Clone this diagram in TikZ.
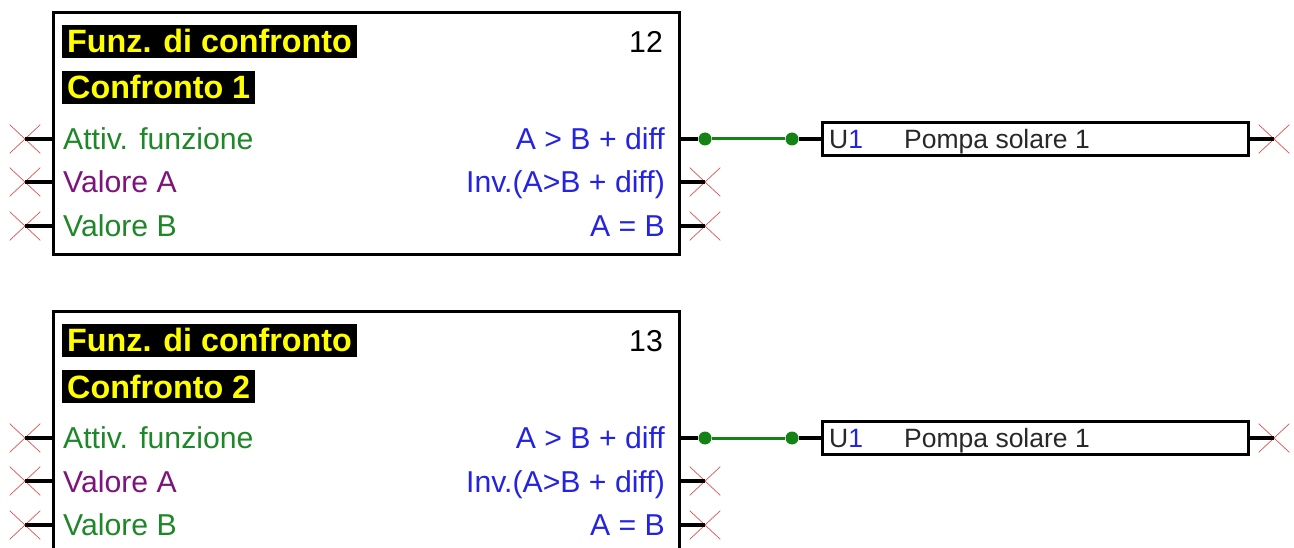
\documentclass[tikz,border=0pt]{standalone}
\usepackage{fontspec}
\setmainfont{Liberation Sans}
\usetikzlibrary{shapes.misc, positioning}

\definecolor{titleYellow}{RGB}{255,255,0}
\definecolor{sigGreen}{RGB}{30,135,40}
\definecolor{sigPurple}{RGB}{125,20,125}
\definecolor{sigBlue}{RGB}{35,35,225}
\definecolor{wireGreen}{RGB}{20,130,20}
\definecolor{xRed}{RGB}{225,80,80}
\definecolor{boxText}{RGB}{40,40,40}

\begin{document}
\begin{tikzpicture}[
    x=1pt, y=-1pt,
    block/.style={draw=black, line width=3.2pt, anchor=north west, minimum width=626pt, minimum height=242pt, inner sep=0pt},
    hdr/.style={fill=black, text=titleYellow, anchor=west, font=\fontsize{32.3}{34}\selectfont\bfseries, inner xsep=5pt, inner ysep=0pt, minimum height=33pt, text height=23pt, text depth=0pt},
    lbl/.style={font=\fontsize{30.2}{32}\selectfont, inner sep=0pt},
    inlbl/.style={lbl, anchor=base west},
    outlbl/.style={lbl, anchor=base east, text=sigBlue},
    xmark/.style={cross out, draw=xRed, line width=0.7pt, minimum width=30pt, minimum height=28pt, inner sep=0pt},
    pin/.style={draw=black, line width=3.2pt},
    wire/.style={draw=wireGreen, line width=3pt},
    dot/.style={circle, fill=wireGreen, minimum size=13pt, inner sep=0pt},
    outbox/.style={draw=black, line width=3.2pt, anchor=west, minimum width=426pt, minimum height=33pt, inner sep=0pt},
    boxtxt/.style={font=\fontsize{26.5}{30}\selectfont, text=boxText, anchor=base west, inner sep=0pt}
]
\useasboundingbox (0,0) rectangle (1294,548);
\clip (0,0) rectangle (1294,548);

% comparison block 12
\node[block] (cmp1) at (52,11) {};
\node[hdr] (hd1a) at (62,41.5) {Funz. di confronto};
\node[hdr] (hd1b) at (62,87.5) {Confronto 1};
\node[lbl, anchor=base east] (nr1) at (663,52.5) {12};
\node[inlbl, text=sigGreen] (in1a) at (63,149.5) {Attiv. funzione};
\node[inlbl, text=sigPurple] (in1b) at (63,193) {Valore A};
\node[inlbl, text=sigGreen] (in1c) at (63,236.5) {Valore B};
\node[outlbl] (out1a) at (665,149.5) {A > B + diff};
\node[outlbl] (out1b) at (665,193) {Inv.(A>B + diff)};
\node[outlbl] (out1c) at (665,236.5) {A = B};

\node[xmark] (x1a) at (25,139) {};
\node[xmark] (x1b) at (25,182) {};
\node[xmark] (x1c) at (25,226) {};
\node[xmark] (x1e) at (705,182) {};
\node[xmark] (x1f) at (705,226) {};
\draw[pin] (x1a.center) -- (x1a.center -| cmp1.west);
\draw[pin] (x1b.center) -- (x1b.center -| cmp1.west);
\draw[pin] (x1c.center) -- (x1c.center -| cmp1.west);
\draw[pin] (x1e.center) -- (x1e.center -| cmp1.east);
\draw[pin] (x1f.center) -- (x1f.center -| cmp1.east);

% output U1
\node[dot] (d1a) at (705,139) {};
\node[dot] (d1b) at (792,139) {};
\node[outbox] (u1) at (821,139) {};
\node[boxtxt] (u1id) at (829,148.5) {U\textcolor{sigBlue}{1}};
\node[boxtxt] (u1name) at (904,148.5) {Pompa solare 1};
\node[xmark] (u1x) at (1274,139) {};
\draw[pin] (d1a) -- (d1a -| cmp1.east);
\draw[wire] (d1a) -- (d1b);
\draw[pin] (d1b) -- (u1.west);
\draw[pin] (u1.east) -- (u1x.center);

% comparison block 13
\node[block] (cmp2) at (52,310) {};
\node[hdr] (hd2a) at (62,340.5) {Funz. di confronto};
\node[hdr] (hd2b) at (62,386.5) {Confronto 2};
\node[lbl, anchor=base east] (nr2) at (663,351.5) {13};
\node[inlbl, text=sigGreen] (in2a) at (63,448.5) {Attiv. funzione};
\node[inlbl, text=sigPurple] (in2b) at (63,492) {Valore A};
\node[inlbl, text=sigGreen] (in2c) at (63,535.5) {Valore B};
\node[outlbl] (out2a) at (665,448.5) {A > B + diff};
\node[outlbl] (out2b) at (665,492) {Inv.(A>B + diff)};
\node[outlbl] (out2c) at (665,535.5) {A = B};

\node[xmark] (x2a) at (25,438) {};
\node[xmark] (x2b) at (25,481) {};
\node[xmark] (x2c) at (25,525) {};
\node[xmark] (x2e) at (705,481) {};
\node[xmark] (x2f) at (705,525) {};
\draw[pin] (x2a.center) -- (x2a.center -| cmp2.west);
\draw[pin] (x2b.center) -- (x2b.center -| cmp2.west);
\draw[pin] (x2c.center) -- (x2c.center -| cmp2.west);
\draw[pin] (x2e.center) -- (x2e.center -| cmp2.east);
\draw[pin] (x2f.center) -- (x2f.center -| cmp2.east);

% output U1 (second)
\node[dot] (d2a) at (705,438) {};
\node[dot] (d2b) at (792,438) {};
\node[outbox] (u2) at (821,438) {};
\node[boxtxt] (u2id) at (829,447.5) {U\textcolor{sigBlue}{1}};
\node[boxtxt] (u2name) at (904,447.5) {Pompa solare 1};
\node[xmark] (u2x) at (1274,438) {};
\draw[pin] (d2a) -- (d2a -| cmp2.east);
\draw[wire] (d2a) -- (d2b);
\draw[pin] (d2b) -- (u2.west);
\draw[pin] (u2.east) -- (u2x.center);
\end{tikzpicture}
\end{document}
